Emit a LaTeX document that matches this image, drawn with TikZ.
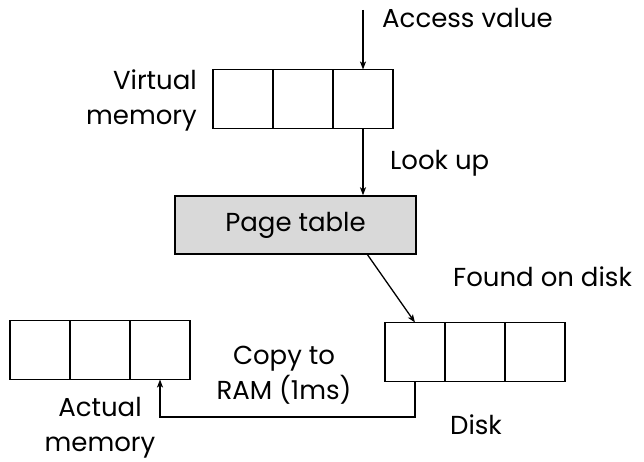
\documentclass[tikz,border=0pt]{standalone}
\usepackage{fontspec}
\setmainfont{Poppins}
\usetikzlibrary{arrows.meta}
\begin{document}
\begin{tikzpicture}[x=1pt,y=-1pt,
  cell/.style={draw=black,line width=1.4pt,minimum width=60pt,minimum height=59pt,inner sep=0pt,outer sep=0pt},
  tablebox/.style={draw=black,line width=1.4pt,fill=gray!30,minimum width=241pt,minimum height=58pt,inner sep=0pt,font=\fontsize{26}{30}\selectfont},
  lbl/.style={font=\fontsize{26}{35}\selectfont,inner sep=0pt,align=center},
  conn/.style={line width=1.3pt,-{Stealth[length=8pt,width=6pt,inset=2pt]}}]
\useasboundingbox (0,0) rectangle (644,462);
% virtual memory
\node[cell] (v1) at (243,99) {};
\node[cell] (v2) at (303,99) {};
\node[cell] (v3) at (363,99) {};
% page table
\node[tablebox] (pt) at (295.5,225) {Page table};
% disk
\node[cell] (d1) at (415,352) {};
\node[cell] (d2) at (475,352) {};
\node[cell] (d3) at (535,352) {};
% actual memory
\node[cell] (a1) at (40,350) {};
\node[cell] (a2) at (100,350) {};
\node[cell] (a3) at (160,350) {};
% labels
\node[lbl,anchor=west] (acc) at (382,18) {Access value};
\node[lbl,anchor=east,align=right] (vm) at (197,100) {Virtual\\memory};
\node[lbl,anchor=west] (look) at (390,163) {Look up};
\node[lbl,anchor=west] (found) at (453,277) {Found on disk};
\node[lbl] (copy) at (284,375) {Copy to\\RAM (1ms)};
\node[lbl] (am) at (100,428) {Actual\\memory};
\node[lbl] (dk) at (476,425) {Disk};
\coordinate (start) at (363,10);
% connectors
\draw[conn] (start) -- (v3.north);
\draw[conn] (v3.south) -- (pt.north -| v3);
\draw[conn] (367,254) -- (d1.north);
\draw[conn] (d1.south) |- (160,417) -- (a3.south);
\end{tikzpicture}
\end{document}
